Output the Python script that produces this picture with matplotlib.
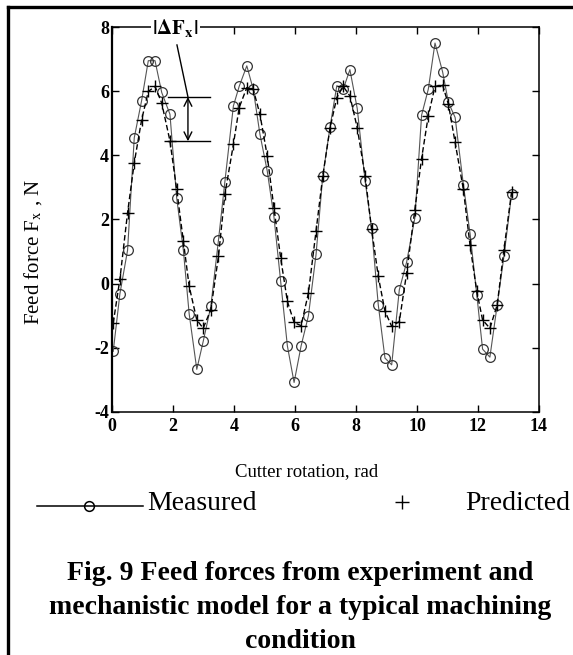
import matplotlib
matplotlib.use("Agg")
import matplotlib.pyplot as plt
from matplotlib.lines import Line2D

plt.rcParams['font.family'] = ['Liberation Serif', 'DejaVu Serif']
plt.rcParams['mathtext.fontset'] = 'stix'

# cutter rotation (rad) of each sample
rotation = [0.04, 0.26, 0.51, 0.73, 0.97, 1.19, 1.41, 1.63, 1.90, 2.12,
            2.34, 2.53, 2.78, 2.99, 3.24, 3.49, 3.70, 3.98, 4.17, 4.42,
            4.63, 4.85, 5.09, 5.31, 5.53, 5.75, 5.97, 6.20, 6.44, 6.69,
            6.91, 7.15, 7.37, 7.58, 7.80, 8.04, 8.30, 8.51, 8.73, 8.95,
            9.17, 9.42, 9.66, 9.93, 10.15, 10.37, 10.59, 10.84, 11.03, 11.25,
            11.52, 11.74, 11.96, 12.15, 12.39, 12.63, 12.85, 13.10]

measured = [-2.11, -0.31, 1.04, 4.55, 5.70, 6.95, 6.95, 5.96, 5.28, 2.68,
            1.04, -0.94, -2.67, -1.80, -0.71, 1.35, 3.17, 5.54, 6.15, 6.79,
            6.06, 4.66, 3.51, 2.08, 0.07, -1.94, -3.08, -1.94, -1.00, 0.91,
            3.35, 4.89, 6.17, 6.06, 6.67, 5.46, 3.20, 1.74, -0.66, -2.32,
            -2.53, -0.19, 0.67, 2.05, 5.25, 6.06, 7.50, 6.60, 5.65, 5.18,
            3.09, 1.56, -0.34, -2.04, -2.29, -0.66, 0.85, 2.78]

predicted = [-1.23, 0.15, 2.21, 3.77, 5.10, 5.99, 6.15, 5.63, 4.45, 2.94,
             1.32, -0.08, -1.13, -1.39, -0.81, 0.85, 2.78, 4.34, 5.49, 6.11,
             6.06, 5.28, 3.98, 2.36, 0.80, -0.55, -1.21, -1.31, -0.29, 1.64,
             3.35, 4.86, 5.80, 6.15, 5.85, 4.86, 3.35, 1.71, 0.23, -0.86,
             -1.33, -1.18, 0.33, 2.31, 3.90, 5.23, 6.15, 6.19, 5.59, 4.40,
             2.94, 1.19, -0.24, -1.13, -1.39, -0.66, 1.06, 2.85]

xticks = [0, 2, 4, 6, 8, 10, 12, 14]
yticks = [-4, -2, 0, 2, 4, 6, 8]

W, H = 573, 655


def fx(p):
    return p / W


def fy(p):
    return 1 - p / H


fig = plt.figure(figsize=(W / 100, H / 100), dpi=100)
ax = fig.add_axes([fx(112), fy(412), fx(539) - fx(112), fy(27) - fy(412)])

ax.plot(rotation, measured, '-', color='#555555', lw=0.8,
        marker='o', ms=7, mfc='none', mec='#333333', mew=0.9)
ax.plot(rotation, predicted, color='black', lw=1.0, dashes=(4, 2),
        marker='+', ms=8, mew=1.0)

ax.set_xlim(0, 14)
ax.set_ylim(-4, 8)
ax.set_xticks(xticks)
ax.set_yticks(yticks)
ax.set_xticklabels([str(t) for t in xticks], fontsize=13, fontweight='bold')
ax.set_yticklabels([str(t) for t in yticks], fontsize=13, fontweight='bold')
ax.tick_params(direction='in', length=5, width=1, top=True, right=True)
ax.tick_params(axis='x', pad=4)
ax.tick_params(axis='y', pad=2)
for s in ax.spines.values():
    s.set_linewidth(1.1)
ax.spines['left'].set_linewidth(1.6)

# |dFx| annotation
ax.plot([1.84, 3.21], [5.82, 5.82], color='black', lw=1.0)
ax.plot([1.84, 3.21], [4.44, 4.44], color='black', lw=1.0)
ax.annotate('', xy=(2.49, 4.44), xytext=(2.49, 5.82),
            arrowprops=dict(arrowstyle='<->', lw=1.0, color='black',
                            shrinkA=0, shrinkB=0, mutation_scale=14))
ax.plot([2.13, 2.49], [7.44, 5.82], color='black', lw=1.0)
ax.text(2.07, 7.97, r'$\mathbf{|\Delta F_x|}$', fontsize=15,
        ha='center', va='center', clip_on=False, zorder=5,
        bbox=dict(facecolor='white', edgecolor='none', pad=1))

fig.text(fx(33), fy(252), r'Feed force F$_{\rm x}$ , N', fontsize=15,
         rotation=90, ha='center', va='center')
fig.text(fx(307), fy(472), 'Cutter rotation, rad', fontsize=13.5,
         ha='center', va='center')

# legend row
fig.add_artist(Line2D([fx(37), fx(143)], [fy(506), fy(506)], color='black',
                      lw=1.1, transform=fig.transFigure))
fig.add_artist(Line2D([fx(89)], [fy(506)], marker='o', ms=7, mfc='none',
                      mec='black', mew=1.1, transform=fig.transFigure))
fig.text(fx(147), fy(503), 'Measured', fontsize=20, ha='left', va='center')
fig.add_artist(Line2D([fx(402)], [fy(502)], marker='+', ms=10, color='black',
                      mew=1.0, transform=fig.transFigure))
fig.text(fx(465), fy(503), 'Predicted', fontsize=20, ha='left', va='center')

caption = ['Fig. 9 Feed forces from experiment and',
           'mechanistic model for a typical machining',
           'condition']
for i, line in enumerate(caption):
    fig.text(fx(300), fy(573 + 34.5 * i), line, fontsize=20,
             fontweight='bold', ha='center', va='center')

# page frame (top and left edges)
fig.add_artist(Line2D([fx(8), 1], [fy(7), fy(7)], color='black', lw=2.4,
                      transform=fig.transFigure))
fig.add_artist(Line2D([fx(8), fx(8)], [0, fy(7)], color='black', lw=2.4,
                      transform=fig.transFigure))

fig.savefig('out.png', dpi=100)
